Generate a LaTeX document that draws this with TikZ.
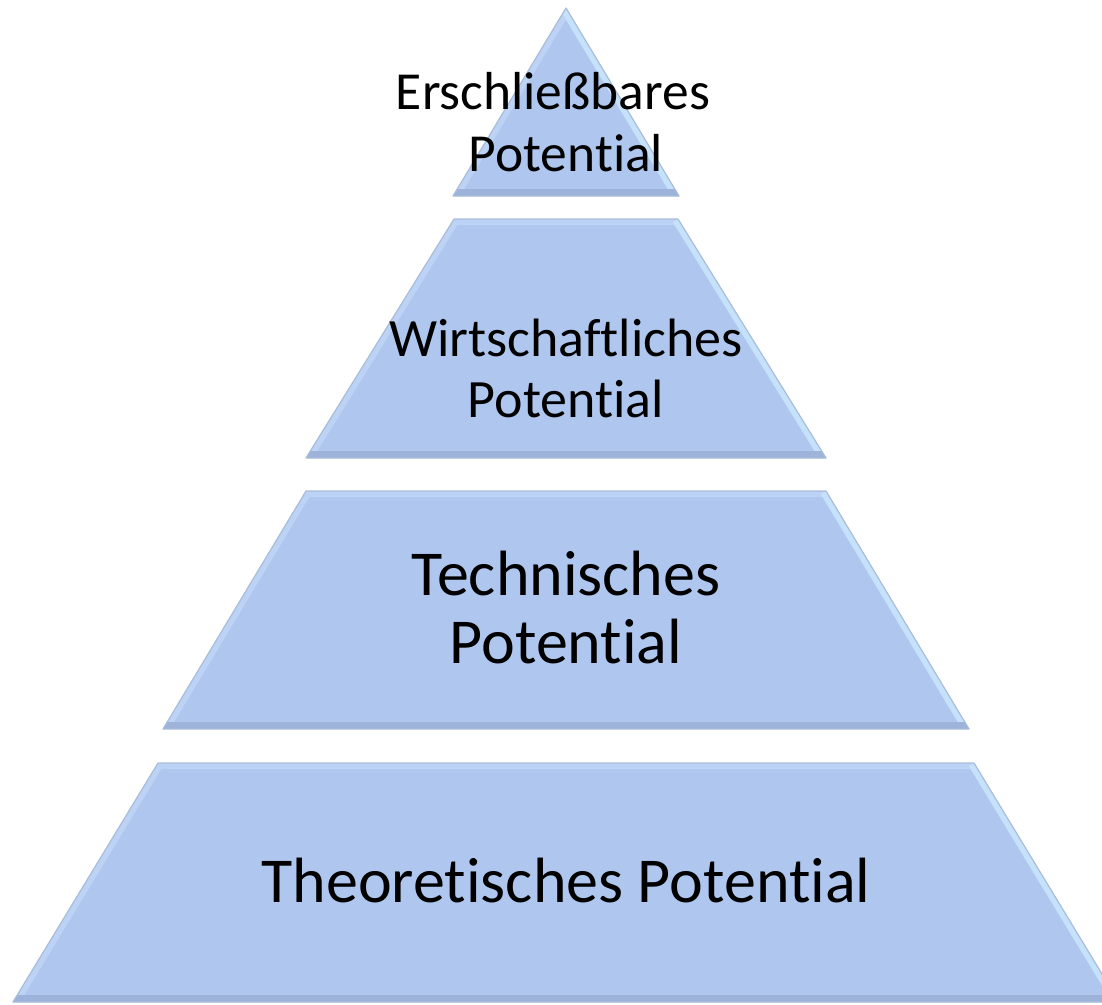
\documentclass[tikz,border=0pt]{standalone}
\usepackage{fontspec}
\setmainfont[Ligatures=NoCommon]{Carlito}
\usetikzlibrary{calc}
\definecolor{pyrfill}{HTML}{AFC7EF}
\definecolor{pyrlight}{HTML}{BCD3F5}
\definecolor{pyrside}{HTML}{C6E2FA}
\definecolor{pyrdark}{HTML}{9DB3D9}
\definecolor{pyredge}{HTML}{A9BCDA}

\begin{document}
\begin{tikzpicture}[x=1pt, y=-1pt, bevel/.style = {fill=pyrfill, draw=pyrlight, line width=12pt, line join=round}, side/.style = {draw=pyrside, line width=12pt}, rim/.style = {draw=pyredge, line width=1.2pt, line join=round}, lbl/.style = {align=center, text=black}]

    \useasboundingbox (0,0) rectangle (1102,1004);

    \coordinate (erA) at (566,8);
    \coordinate (erB) at (679,196);
    \coordinate (erC) at (453,196);

    \coordinate (wiA) at (454,219);
    \coordinate (wiB) at (678,219);
    \coordinate (wiC) at (826,458);
    \coordinate (wiD) at (306,458);

    \coordinate (teA) at (306,491);
    \coordinate (teB) at (826,491);
    \coordinate (teC) at (969,729);
    \coordinate (teD) at (163,729);

    \coordinate (thA) at (158,763);
    \coordinate (thB) at (974,763);
    \coordinate (thC) at (1119,1002);
    \coordinate (thD) at (13,1002);

    \begin{scope}
        \clip (erA) -- (erB) -- (erC) -- cycle;
        \path[bevel] (erA) -- (erB) -- (erC) -- cycle;
        \path[side] (erA) -- (erB);
        \fill[pyrdark] (0,189) rectangle (1102,196);
    \end{scope}
    \draw[rim] (erA) -- (erB) -- (erC) -- cycle;

    \begin{scope}
        \clip (wiA) -- (wiB) -- (wiC) -- (wiD) -- cycle;
        \path[bevel] (wiA) -- (wiB) -- (wiC) -- (wiD) -- cycle;
        \path[side] (wiB) -- (wiC);
        \fill[pyrdark] (0,451) rectangle (1102,458);
    \end{scope}
    \draw[rim] (wiA) -- (wiB) -- (wiC) -- (wiD) -- cycle;

    \begin{scope}
        \clip (teA) -- (teB) -- (teC) -- (teD) -- cycle;
        \path[bevel] (teA) -- (teB) -- (teC) -- (teD) -- cycle;
        \path[side] (teB) -- (teC);
        \fill[pyrdark] (0,722) rectangle (1102,729);
    \end{scope}
    \draw[rim] (teA) -- (teB) -- (teC) -- (teD) -- cycle;

    \begin{scope}
        \clip (thA) -- (thB) -- (thC) -- (thD) -- cycle;
        \path[bevel] (thA) -- (thB) -- (thC) -- (thD) -- cycle;
        \path[side] (thB) -- (thC);
        \fill[pyrdark] (0,995) rectangle (1102,1002);
    \end{scope}
    \draw[rim] (thA) -- (thB) -- (thC) -- (thD) -- cycle;

    \node [lbl, font=\fontsize{53.5}{62}\selectfont] (er) at (566,122) {Erschließbares\hspace*{26pt}\\Potential};
    \node [lbl, font=\fontsize{54}{61}\selectfont] (wi) at (566,368) {Wirtschaftliches\\Potential};
    \node [lbl, font=\fontsize{64}{68}\selectfont] (te) at (566,608) {Technisches\\Potential};
    \node [lbl, font=\fontsize{64}{68}\selectfont] (th) at (566,881) {Theoretisches Potential};

\end{tikzpicture}
\end{document}
